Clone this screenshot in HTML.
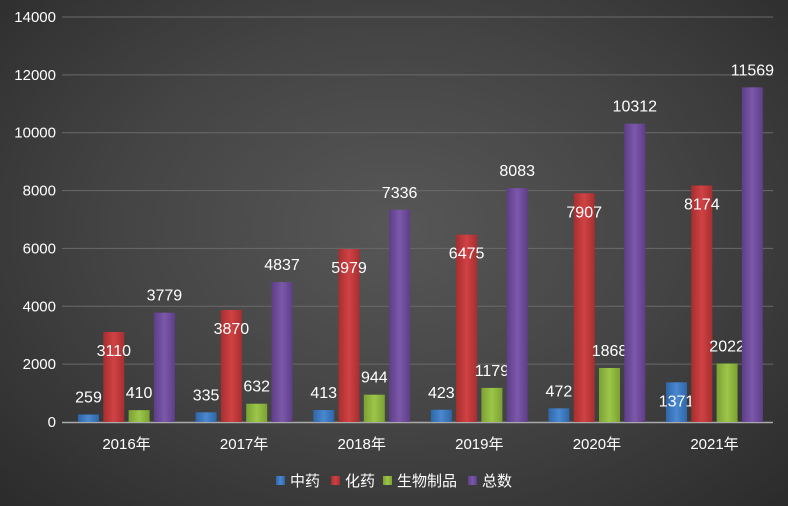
<!DOCTYPE html>
<html><head><meta charset="utf-8"><style>
body{margin:0;width:788px;height:506px;overflow:hidden}
#bg{position:absolute;left:0;top:0;width:788px;height:506px;background:radial-gradient(ellipse at 50% 45%,#575757 0%,#444 50%,#2b2b2b 100%)}
text{font-family:"Liberation Sans","Noto Sans CJK SC",sans-serif;fill:#fff}
</style></head><body>
<div id="bg"></div>
<svg id="c" width="788" height="506" style="position:absolute;left:0;top:0">
<defs>
<linearGradient id="g0" x1="0" x2="1"><stop offset="0" stop-color="#2f66a8"/><stop offset=".5" stop-color="#4a88d0"/><stop offset="1" stop-color="#2f66a8"/></linearGradient>
<linearGradient id="g1" x1="0" x2="1"><stop offset="0" stop-color="#a82e30"/><stop offset=".5" stop-color="#d04244"/><stop offset="1" stop-color="#a82e30"/></linearGradient>
<linearGradient id="g2" x1="0" x2="1"><stop offset="0" stop-color="#7ba132"/><stop offset=".5" stop-color="#9cc64a"/><stop offset="1" stop-color="#7ba132"/></linearGradient>
<linearGradient id="g3" x1="0" x2="1"><stop offset="0" stop-color="#5d3e88"/><stop offset=".5" stop-color="#7c58aa"/><stop offset="1" stop-color="#5d3e88"/></linearGradient>
</defs>
</svg>
<script>
const categories=["2016年","2017年","2018年","2019年","2020年","2021年"];
const seriesNames=["中药","化药","生物制品","总数"];
const tcm=[259,335,413,423,472,1371];
const chem=[3110,3870,5979,6475,7907,8174];
const bio=[410,632,944,1179,1868,2022];
const total=[3779,4837,7336,8083,10312,11569];
const yTicks=[0,2000,4000,6000,8000,10000,12000,14000];
const series=[tcm,chem,bio,total];
const NS="http://www.w3.org/2000/svg";
const svg=document.getElementById('c');
const x0=62,x1=773,y0=422,y1=17,ymax=14000;
const y=v=>y0-(v/ymax)*(y0-y1);
const gw=117.6;
const xc=i=>126.5+gw*i;
function mk(t,a){const e=document.createElementNS(NS,t);for(const k in a)e.setAttribute(k,a[k]);svg.appendChild(e);return e;}
yTicks.forEach(t=>{
 if(t>0){const l=mk('line',{x1:x0,x2:x1,y1:y(t),y2:y(t),stroke:'#6a6a6a','stroke-width':1});
 
 }
 const tx=mk('text',{x:56,y:y(t)+5,'text-anchor':'end','font-size':15});tx.textContent=t;
 
 
});
const ax=mk('line',{x1:x0,x2:x1,y1:y0+0.5,y2:y0+0.5,stroke:'#aaa','stroke-width':1.5});


const bw=21,step=25.3;
categories.forEach((c,i)=>{
 const cx=xc(i);
 series.forEach((s,j)=>{
  const v=s[i];const bx=cx-48.5+j*step;
  const r=mk('rect',{x:bx,y:y(v),width:bw,height:y0-y(v),fill:'url(#g'+j+')'});
  
  
  const inside=(j===1)||(j===0&&v>1000);
  const ly=inside?y(v)+24:y(v)-12;
  const t=mk('text',{x:bx+bw/2,y:ly,'text-anchor':'middle','font-size':16});t.textContent=v;
  
  
 });
 const t=mk('text',{x:cx,y:449,'text-anchor':'middle','font-size':15});t.textContent=c;
 
 
});
const lx=[276,331,383,468];
seriesNames.forEach((n,j)=>{
 const r=mk('rect',{x:lx[j],y:476,width:9,height:9,fill:'url(#g'+j+')'});
 
 
 const t=mk('text',{x:lx[j]+14,y:486,'font-size':15});t.textContent=n;
 
 
});
</script>
</body></html>
